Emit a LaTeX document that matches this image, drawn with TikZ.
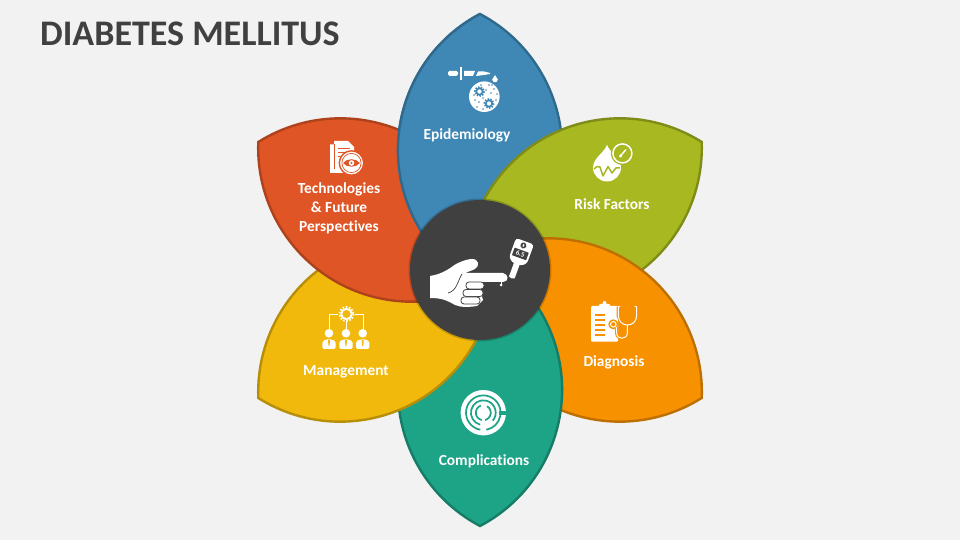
\documentclass[tikz,border=0pt]{standalone}
\usepackage{fontspec}
\setmainfont{Carlito}[Ligatures=CommonOff]
\definecolor{bgpage}{HTML}{F2F2F2}
\definecolor{titlegray}{HTML}{404040}
\definecolor{hubgray}{HTML}{404040}
\definecolor{leafblue}{HTML}{3F88B5}
\definecolor{edgeblue}{HTML}{2F6A8D}
\definecolor{leafolive}{HTML}{A8B820}
\definecolor{edgeolive}{HTML}{7F8C18}
\definecolor{leaforange}{HTML}{F79100}
\definecolor{edgeorange}{HTML}{BD7000}
\definecolor{leafgreen}{HTML}{1DA385}
\definecolor{edgegreen}{HTML}{167C66}
\definecolor{leafyellow}{HTML}{F0B90B}
\definecolor{edgeyellow}{HTML}{B78E08}
\definecolor{leafred}{HTML}{E05525}
\definecolor{edgered}{HTML}{AE421C}
\newcommand{\leafpath}{(0,256) arc[start angle=117.8,end angle=242.2,radius=153.8] arc[start angle=-62.2,end angle=62.2,radius=153.8] -- cycle}
\tikzset{
	pagepx/.style={shift={(0,540)},yscale=-1},
	leaflabel/.style={text=white,font=\fontsize{15.4}{19}\selectfont\bfseries,align=center,inner sep=0pt},
	mazeline/.style={leafgreen,line width=1.7pt},
}
\begin{document}
\begin{tikzpicture}[x=1pt,y=1pt,line join=round]
	\fill[bgpage] (0,0) rectangle (960,540);
	\useasboundingbox (0,0) rectangle (960,540);
	% petals, each one lies on the one before
	\foreach \ang/\fc/\ec in {0/leafblue/edgeblue,-60/leafolive/edgeolive,-120/leaforange/edgeorange,-180/leafgreen/edgegreen,-240/leafyellow/edgeyellow,-300/leafred/edgered}
		\draw[shift={(480,270)},rotate=\ang,fill=\fc,draw=\ec,line width=2.4pt,miter limit=20,line join=miter] \leafpath;
	\begin{scope}[shift={(480,270)}]
		\clip (-90,-20) rectangle (-0.5,262);
		\draw[fill=leafblue,draw=edgeblue,line width=2.4pt,miter limit=20,line join=miter] \leafpath;
	\end{scope}
	\begin{scope}[pagepx]
		\node[anchor=west,text=titlegray,font=\fontsize{36}{36}\selectfont\bfseries,inner sep=0pt] (title) at (40,34) {DIABETES MELLITUS};
		\fill[black,opacity=0.18] (480,270) circle (71.5);
		\fill[hubgray] (480,270) circle (70);
		\node[leaflabel] (epidemiology) at (467,135) {Epidemiology};
		\node[leaflabel] (riskfactors) at (612,204) {Risk Factors};
		\node[leaflabel] (diagnosis) at (614,362) {Diagnosis};
		\node[leaflabel] (complications) at (484,461) {Complications};
		\node[leaflabel] (management) at (346,372) {Management};
		\node[leaflabel] (technologies) at (339,208) {Technologies\\\& Future\\Perspectives};
		% hand and meter
		\fill[white] (430,276) .. controls (443,274) and (450,268) .. (456,264) .. controls (462,261) and (468,259) .. (472,259) .. controls (479,259) and (480,266) .. (475,269) .. controls (471,271) and (467,272) .. (465,273) -- (503,273) .. controls (509,274) and (509,282) .. (503,282) -- (478,282) -- (483,300) -- (477,306) .. controls (470,307) and (462,308) .. (455,305) .. controls (448,301) and (443,298) .. (430,298) -- cycle;
		\draw[hubgray,line width=0.7pt] (462,274) .. controls (458,280) and (457,291) .. (448,293);
		\foreach \fx/\fy/\fw in {466/282/18,463/289.5/20,461/297/19}
			\draw[fill=white,draw=hubgray,line width=0.8pt,rounded corners=3pt] (\fx,\fy) rectangle ++(\fw,7);
		\fill[white] (501,285) circle (1.5);
		\draw[white,line width=0.8pt] (501,282) -- (501,285);
		\begin{scope}[shift={(520.7,253)},rotate=20]
			\fill[white,rounded corners=3pt] (-9.5,-12.5) -- (9.5,-12.5) -- (9.5,8) -- (4,12) -- (-4,12) -- (-9.5,8) -- cycle;
			\fill[white] (-3,11) -- (3,11) -- (3,26) -- (0,27) -- (-3,26) -- cycle;
			\fill[hubgray,rounded corners=0.5pt] (-7.5,-3) rectangle (7.5,5);
			\fill[hubgray] (0,-8) circle (3);
			\fill[white] (0,-8) ellipse (1 and 1.8);
			\node[text=white,font=\fontsize{7}{7}\selectfont\bfseries,rotate=-20,inner sep=0pt] (meterval) at (0,1) {6.5};
		\end{scope}
		% epidemiology icon
		\fill[white,rounded corners=1.5pt] (448,71) rectangle (458,76);
		\fill[white] (460,67) rectangle (461.5,80);
		\fill[white] (464,71) -- (475,71) -- (473,76) -- (464,76) -- cycle;
		\fill[white] (476,76) -- (478,71.5) -- (484,71.5) -- (490,73) -- (490,74) -- (484,75) -- cycle;
		\fill[white] (495,75) -- (497.8,79.5) arc[start angle=0,end angle=180,radius=2.8] -- cycle;
		\fill[white] (484.3,96.7) circle (15.3);
		\foreach \gx/\gy in {479.5/91.5,489/103.5} {
			\draw[leafblue,line width=1.7pt] (\gx,\gy) circle (3.2);
			\draw[leafblue,line width=1.8pt,dash pattern=on 1.4pt off 1.4pt] (\gx,\gy) circle (4.6);
		}
		\foreach \dx/\dy in {489/85,494/89,497/94,491/93,475/100,479/102,474/95,483/98,477/107,483/109,492/85,496/100,486/90,481/85}
			\fill[leafblue] (\dx,\dy) circle (0.8);
		% risk factors icon
		\fill[white] (607,144.7) .. controls (609,152) and (621,158) .. (621,167.5) arc[start angle=0,end angle=180,radius=14] .. controls (593,158) and (605,152) .. (607,144.7) -- cycle;
		\draw[fill=leafolive,draw=leafolive,line width=2pt] (622.4,153.4) circle (10.6);
		\draw[leafolive,line width=1.5pt] (594,169) -- (597,166.5) -- (600,167) -- (603,176) -- (608,166.5) -- (612,173) -- (616,168) -- (620,168);
		\draw[white,line width=1.5pt] (622.4,153.4) circle (9.5);
		\draw[white,line width=1.4pt] (620.5,156) -- (626,149.5);
		\fill[white] (620.5,156) circle (1.7);
		% technologies icon
		\fill[white] (330,144.5) -- (334,144.5) -- (334,141) -- (348,141) -- (354,147) -- (354,173) -- (330,173) -- cycle;
		\draw[leafred,line width=0.9pt] (334,144.5) -- (334,169);
		\foreach \ly in {148,152,156}
			\draw[leafred,line width=0.8pt] (338,\ly) -- (350,\ly);
		\draw[fill=white,draw=leafred,line width=1.4pt] (351.5,163) circle (12.2);
		\draw[leafred,line width=0.7pt] (351.5,163) circle (9.6);
		\fill[leafred] (343,163) .. controls (347,158) and (356,158) .. (360,163) .. controls (356,168) and (347,168) .. (343,163) -- cycle;
		\fill[white] (351.5,163) circle (2.8);
		\fill[leafred] (351.5,163) circle (1.2);
		% management icon
		\draw[white,line width=0.9pt] (338,314.3) -- (329.3,314.3) -- (329.3,329);
		\draw[white,line width=0.9pt] (355,314.3) -- (363.3,314.3) -- (363.3,329);
		\draw[white,line width=0.9pt] (346.5,322) -- (346.5,329);
		\draw[white,line width=1.8pt] (346.5,314) circle (5.2);
		\draw[white,line width=1.9pt,dash pattern=on 1.6pt off 1.6pt] (346.5,314) circle (7);
		\foreach \px in {329,346,362.7} {
			\fill[white] (\px,333.3) circle (4.3);
			\fill[white,rounded corners=1.5pt] (\px-6.7,349) -- (\px-6.7,341.5) -- (\px-2.5,339.3) -- (\px+2.5,339.3) -- (\px+6.7,341.5) -- (\px+6.7,349) -- cycle;
			\fill[leafyellow] (\px-1,340) -- (\px+1,340) -- (\px+0.6,345) -- (\px,346.5) -- (\px-0.6,345) -- cycle;
		}
		% diagnosis icon
		\fill[white,rounded corners=1pt] (591,306) rectangle (618,341.7);
		\fill[white,rounded corners=1pt] (599,304) rectangle (610,308);
		\fill[white] (604.5,303) circle (2);
		\foreach \ly in {315,320,325,330,335}
			\draw[leaforange,line width=1.3pt] (595,\ly) -- (605,\ly);
		\draw[leaforange,line width=3.4pt] (618.3,306.7) -- (618.3,316) .. controls (618.3,321) and (627.3,321) .. (627.3,327);
		\draw[leaforange,line width=3.2pt] (627.3,325) -- (627.3,333) .. controls (627.3,340) and (616.7,340) .. (616.7,333) -- (616.2,327);
		\fill[leaforange] (613.3,324.3) circle (5);
		\draw[white,line width=1pt] (620,306.7) -- (618.3,306.7) -- (618.3,315) .. controls (618.3,322) and (623,325) .. (627.3,325) .. controls (632,325) and (636.7,322) .. (636.7,315) -- (636.7,306.7) -- (634.5,306.7);
		\draw[white,line width=1pt] (627.3,325) -- (627.3,333) .. controls (627.3,340) and (616.7,340) .. (616.7,333) -- (616.2,327);
		\draw[white,line width=1pt] (613.3,324.3) circle (2.8);
		% complications icon
		\fill[white] (483.3,412.7) circle (22.7);
		\draw[mazeline] (483.3,412.7) +(-60:7.5) arc[start angle=-60,end angle=250,radius=7.5];
		\draw[mazeline] (483.3,412.7) +(105:12.4) arc[start angle=105,end angle=400,radius=12.4];
		\draw[mazeline] (483.3,412.7) +(100:17.3) arc[start angle=100,end angle=440,radius=17.3];
		\fill[leafgreen] (499,410.7) rectangle (507,414.7);
		\fill[white] (481.8,418) rectangle (484.8,432);
	\end{scope}
\end{tikzpicture}
\end{document}
